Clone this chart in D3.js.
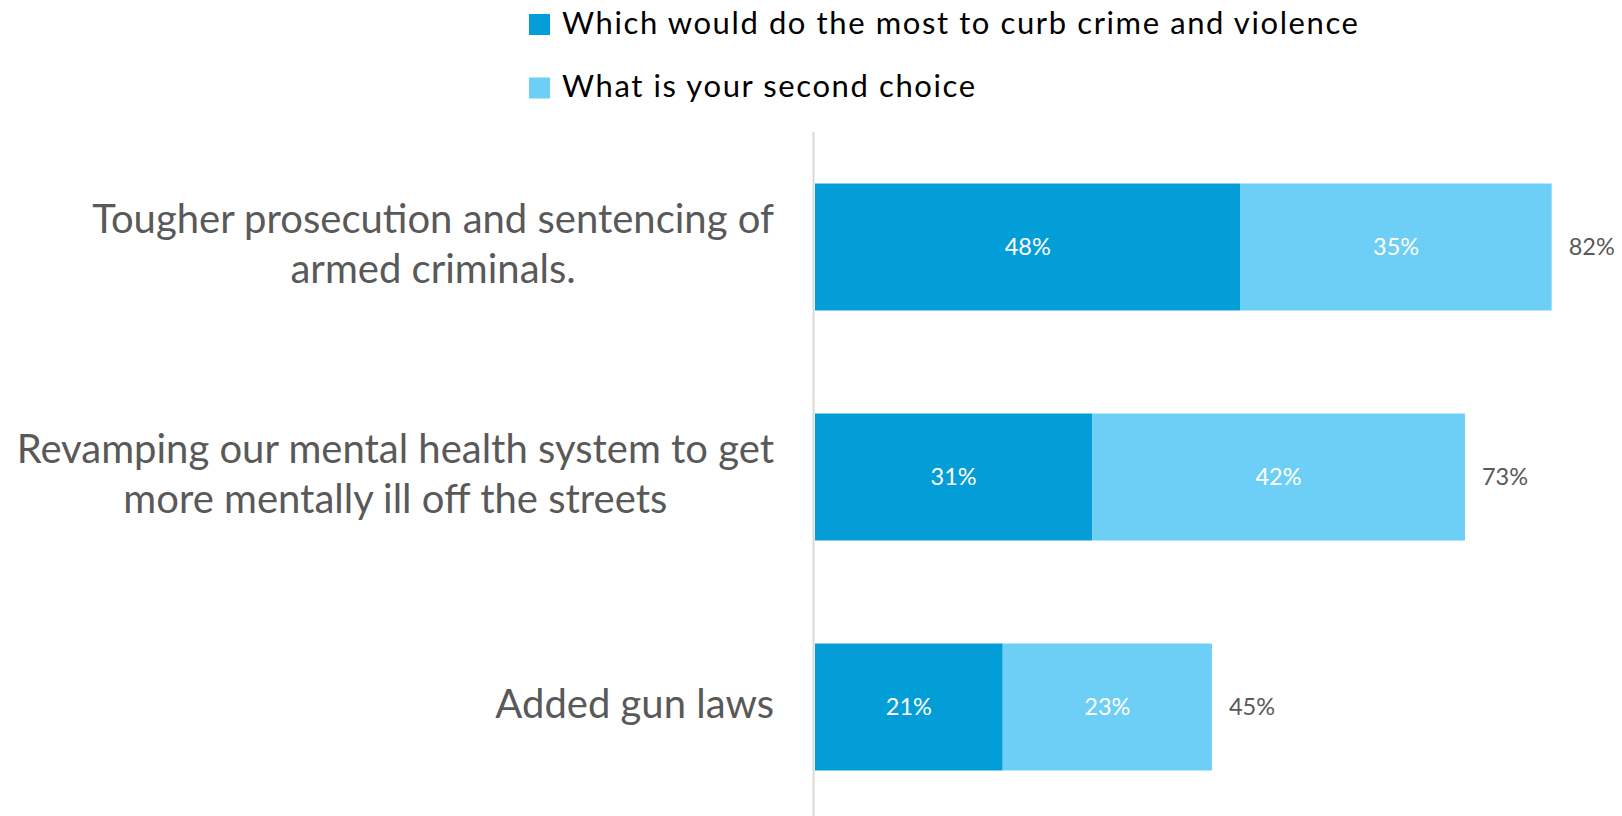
<!DOCTYPE html>
<html>
<head>
<meta charset="utf-8">
<script src="https://cdn.jsdelivr.net/npm/d3@7"></script>
<style>
  html, body { margin: 0; padding: 0; background: #ffffff; }
  svg { display: block; }
</style>
</head>
<body>
<script>
// ---- data ----
const categoryLines = [
  ["Tougher prosecution and sentencing of", "armed criminals."],
  ["Revamping our mental health system to get", "more mentally ill off the streets"],
  ["Added gun laws"]
];
const seriesNames = ["Which would do the most to curb crime and violence", "What is your second choice"];
const firstChoice = [47.6, 31.0, 21.0];
const secondChoice = [34.8, 41.7, 23.4];
const totals = [82, 73, 45];

// ---- layout ----
const W = 1622, H = 816;
const colors = ["#039ED8", "#6DCFF6"];
const font = "Lato, 'Open Sans', sans-serif";

const svg = d3.select("body").append("svg").attr("width", W).attr("height", H);

const x = d3.scaleLinear().domain([0, 100]).range([815, 815 + 894]);
const y = d3.scaleBand().domain(d3.range(categoryLines.length))
  .range([132, 822]).paddingInner(0.448).paddingOuter(0.224);

const rows = categoryLines.map((lines, i) => ({
  i, lines, a: firstChoice[i], b: secondChoice[i], total: totals[i]
}));

// axis line
svg.append("line")
  .attr("x1", x(0) - 1.5).attr("x2", x(0) - 1.5)
  .attr("y1", 132).attr("y2", H)
  .attr("stroke", "#D9D9D9").attr("stroke-width", 2);

const g = svg.selectAll("g.row").data(rows).join("g").attr("class", "row");

// first segment
g.append("rect")
  .attr("x", d => x(0)).attr("y", d => y(d.i))
  .attr("width", d => x(d.a) - x(0)).attr("height", y.bandwidth())
  .attr("fill", colors[0]);
// second segment
g.append("rect")
  .attr("x", d => x(d.a)).attr("y", d => y(d.i))
  .attr("width", d => x(d.a + d.b) - x(d.a)).attr("height", y.bandwidth())
  .attr("fill", colors[1]);

// segment labels
g.append("text")
  .attr("x", d => (x(0) + x(d.a)) / 2).attr("y", d => y(d.i) + y.bandwidth() / 2)
  .attr("dy", "0.35em").attr("text-anchor", "middle")
  .attr("fill", "#ffffff").style("font", `23.5px ${font}`)
  .text(d => Math.round(d.a) + "%");
g.append("text")
  .attr("x", d => (x(d.a) + x(d.a + d.b)) / 2).attr("y", d => y(d.i) + y.bandwidth() / 2)
  .attr("dy", "0.35em").attr("text-anchor", "middle")
  .attr("fill", "#ffffff").style("font", `23.5px ${font}`)
  .text(d => Math.round(d.b) + "%");

// totals
g.append("text")
  .attr("x", d => x(d.a + d.b) + 17).attr("y", d => y(d.i) + y.bandwidth() / 2)
  .attr("dy", "0.35em").attr("text-anchor", "start")
  .attr("fill", "#595959").style("font", `23.5px ${font}`)
  .text(d => d.total + "%");

// category labels: block right-aligned to the axis, lines centred within block
const lineH = 50;
const labelRight = 774;
g.each(function(d) {
  const cy = y(d.i) + y.bandwidth() / 2 - 3;
  const n = d.lines.length;
  const texts = d3.select(this).selectAll("text.cat").data(d.lines).join("text")
    .attr("class", "cat")
    .attr("y", (l, k) => cy + (k - (n - 1) / 2) * lineH)
    .attr("dy", "0.35em").attr("text-anchor", "middle")
    .attr("fill", "#595959").style("font", `40px ${font}`)
    .text(l => l);
  let maxW = 0;
  texts.each(function() { maxW = Math.max(maxW, this.getComputedTextLength()); });
  texts.attr("x", labelRight - maxW / 2);
});

// legend
const lg = svg.selectAll("g.legend").data(seriesNames).join("g").attr("class", "legend")
  .attr("transform", (d, i) => `translate(529, ${24 + i * 63.5})`);
lg.append("rect").attr("x", 0).attr("y", -10).attr("width", 21).attr("height", 21)
  .attr("fill", (d, i) => colors[i]);
lg.append("text").attr("x", 33).attr("y", -1).attr("dy", "0.35em")
  .attr("fill", "#000000").style("font", `31px ${font}`)
  .style("letter-spacing", "1.6px")
  .text(d => d);
</script>
</body>
</html>
